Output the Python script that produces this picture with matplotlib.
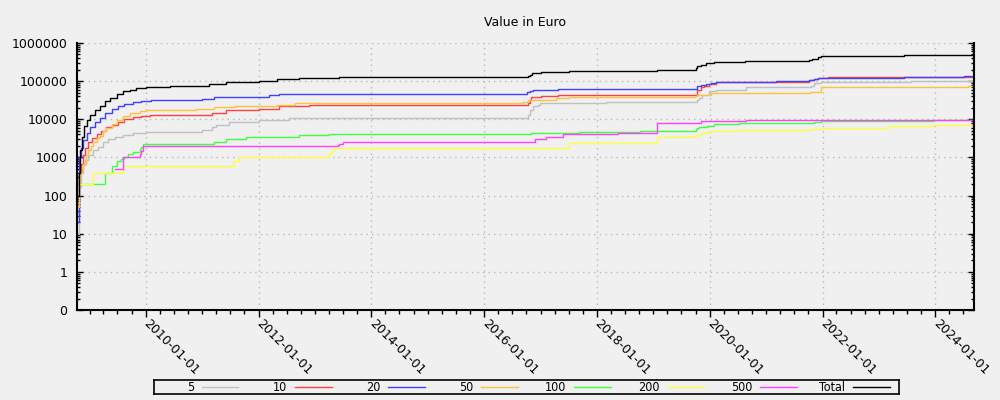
import matplotlib
matplotlib.use("Agg")
import matplotlib.pyplot as plt
import matplotlib.dates as mdates
from matplotlib.ticker import LogLocator, FuncFormatter, NullFormatter
from datetime import datetime

# ---- data (time in decimal years, value in Euro), step curves ----
t_5 = [2008.80, 2008.806, 2008.84, 2008.876, 2008.918, 2008.976, 2009.065, 2009.153, 2009.24, 2009.33,
       2009.45, 2009.59, 2009.77, 2010.006, 2011.0, 2011.18, 2011.24, 2011.48, 2012.0, 2012.54,
       2016.78, 2016.81, 2016.87, 2016.96, 2016.98, 2018.16, 2019.78, 2019.81, 2019.87, 2019.99,
       2020.11, 2020.64, 2021.79, 2021.85, 2021.97, 2023.57]
v_5 = [10, 166, 380, 630, 850, 1150, 1560, 1900, 2600, 3100,
       3500, 3900, 4300, 4650, 5100, 6200, 7200, 8700, 9300, 10500,
       13200, 17800, 21900, 23700, 26800, 29000, 32800, 36300, 44400, 54500,
       60200, 69300, 76800, 86800, 96000, 102000]

t_10 = [2008.80, 2008.818, 2008.84, 2008.876, 2008.918, 2008.976, 2009.035, 2009.124, 2009.21, 2009.30,
        2009.39, 2009.51, 2009.62, 2009.77, 2009.92, 2010.065, 2011.18, 2011.42, 2012.0, 2012.36,
        2012.9, 2016.78, 2016.81, 2016.82, 2017.01, 2017.30, 2019.78, 2019.84, 2019.90, 2019.99,
        2020.11, 2021.76, 2021.85, 2021.91, 2022.09]
v_10 = [200, 420, 690, 1150, 1740, 2600, 3200, 4100, 5060, 6200,
        7200, 8700, 10300, 11400, 12400, 13200, 14600, 17100, 19000, 21900,
        23700, 26800, 32700, 38500, 41700, 44400, 60200, 70800, 76800, 85000,
        96000, 108000, 115000, 122000, 130000]

t_20 = [2008.80, 2008.818, 2008.85, 2008.89, 2008.947, 2009.006, 2009.094, 2009.18, 2009.27, 2009.39,
        2009.51, 2009.62, 2009.77, 2009.92, 2010.09, 2011.0, 2011.21, 2012.18, 2012.36, 2016.75,
        2016.81, 2016.87, 2017.30, 2019.78, 2019.84, 2019.93, 2020.02, 2020.11, 2021.17, 2021.76,
        2021.85, 2021.91, 2022.0, 2023.45, 2024.50]
v_20 = [20, 1040, 1730, 2900, 4300, 6200, 8700, 10700, 14600, 18500,
        21800, 25800, 29000, 30900, 32300, 34000, 38700, 44400, 47200, 52300,
        55000, 59000, 62700, 73800, 78300, 85000, 90400, 96000, 102000, 108000,
        115000, 120000, 122000, 127000, 138000]

t_50 = [2008.80, 2008.806, 2008.83, 2008.86, 2008.89, 2008.935, 2008.976, 2009.018, 2009.065, 2009.124,
        2009.18, 2009.24, 2009.30, 2009.39, 2009.48, 2009.59, 2009.71, 2009.89, 2010.006, 2010.89,
        2011.21, 2011.59, 2012.33, 2012.65, 2016.68, 2016.78, 2016.90, 2017.28, 2017.51, 2019.73,
        2019.78, 2020.02, 2021.78, 2021.97, 2024.58]
v_50 = [50, 205, 380, 515, 690, 1150, 1560, 2000, 2600, 3150,
        3640, 4800, 5900, 7600, 9700, 12400, 14600, 16500, 17500, 18600,
        20600, 22400, 24100, 26800, 29000, 31500, 32800, 35600, 39300, 41800,
        44400, 49100, 52300, 69300, 75300]

t_100 = [2008.83, 2009.27, 2009.39, 2009.48, 2009.565, 2009.62, 2009.68, 2009.77, 2009.89, 2009.92,
         2009.95, 2010.89, 2011.21, 2011.42, 2011.77, 2012.71, 2013.25, 2016.82, 2017.68, 2018.77,
         2019.75, 2019.78, 2019.81, 2019.96, 2020.08, 2020.52, 2021.85, 2021.97, 2023.96]
v_100 = [200, 400, 600, 800, 900, 1000, 1200, 1400, 1700, 1900,
         2200, 2300, 2600, 3100, 3400, 3800, 4000, 4300, 4600, 5000,
         5500, 5960, 6200, 6700, 7400, 7900, 8600, 9100, 9500]

t_200 = [2008.83, 2009.065, 2009.59, 2011.56, 2011.65, 2013.25, 2013.28, 2013.31, 2017.50, 2019.07,
         2019.75, 2019.84, 2019.99, 2020.52, 2021.79, 2022.0, 2023.16, 2023.96]
v_200 = [200, 400, 600, 800, 1000, 1200, 1400, 1800, 2400, 3400,
         3900, 4300, 4800, 5200, 5500, 5850, 6600, 7000]

t_500 = [2009.45, 2009.59, 2009.89, 2009.92, 2009.95, 2013.40, 2013.43, 2013.49, 2016.90, 2017.10,
         2017.39, 2018.38, 2019.07, 2019.84, 2020.64, 2022.0, 2024.5]
v_500 = [500, 1000, 1200, 1500, 2000, 2100, 2300, 2500, 3050, 3400,
         4000, 4300, 7900, 8900, 9500, 9600, 9800]

t_total = [2008.80, 2008.818, 2008.83, 2008.86, 2008.90, 2008.947, 2009.006, 2009.094, 2009.18, 2009.27,
           2009.36, 2009.48, 2009.59, 2009.71, 2009.83, 2010.0, 2010.42, 2011.12, 2011.42, 2012.0,
           2012.33, 2012.71, 2013.43, 2016.78, 2016.81, 2016.84, 2016.92, 2017.01, 2017.51, 2019.07,
           2019.75, 2019.78, 2019.84, 2019.93, 2020.07, 2020.63, 2021.76, 2021.82, 2021.91, 2021.97,
           2023.45]
v_total = [100, 380, 1550, 3500, 6500, 9700, 13000, 17800, 22800, 29700,
           36500, 46200, 54500, 60200, 65300, 70800, 75300, 85000, 96000, 102000,
           111000, 118000, 125000, 135000, 147000, 159000, 166000, 176000, 188000, 199000,
           225000, 250000, 270000, 300000, 324000, 345000, 360000, 385000, 420000, 449000,
           476000]

series_names = ["5", "10", "20", "50", "100", "200", "500", "Total"]
series_t = [t_5, t_10, t_20, t_50, t_100, t_200, t_500, t_total]
series_v = [v_5, v_10, v_20, v_50, v_100, v_200, v_500, v_total]
series_colors = ["#c0c0c0", "#ff4040", "#4040ff", "#ffc040", "#40ff40", "#ffff40", "#ff40ff", "#000000"]

y_ticks = [0.1, 1, 10, 100, 1000, 10000, 100000, 1000000]
y_tick_labels = ["0", "1", "10", "100", "1000", "10000", "100000", "1000000"]

X_START = 2008.778
X_END = 2024.685


def to_date(y):
    yr = int(y)
    a = datetime(yr, 1, 1)
    b = datetime(yr + 1, 1, 1)
    return a + (b - a) * (y - yr)


BG = "#f0f0f0"
plt.rcParams["font.family"] = ["DejaVu Sans"]
fig = plt.figure(figsize=(10, 4), dpi=100, facecolor=BG)
ax = fig.add_axes([0.077, 0.225, 0.897, 0.6675], facecolor=BG)

for name, ts, vs, col in zip(series_names, series_t, series_v, series_colors):
    d = [to_date(t) for t in ts] + [to_date(X_END)]
    v = list(vs) + [vs[-1]]
    ax.plot(d, v, drawstyle="steps-post", color=col, lw=1.0)

ax.set_yscale("log")
ax.set_ylim(0.1, 1e6)
ax.set_xlim(to_date(X_START), to_date(X_END))

ax.yaxis.set_major_locator(matplotlib.ticker.FixedLocator(y_ticks))
ax.yaxis.set_major_formatter(matplotlib.ticker.FixedFormatter(y_tick_labels))
ax.yaxis.set_minor_locator(LogLocator(base=10, subs=range(2, 10), numticks=20))
ax.yaxis.set_minor_formatter(NullFormatter())

ax.xaxis.set_major_locator(mdates.YearLocator(2))
ax.xaxis.set_major_formatter(mdates.DateFormatter("%Y-%m-%d"))
ax.xaxis.set_minor_locator(mdates.MonthLocator(bymonth=[1, 4, 7, 10]))

ax.tick_params(axis="y", which="both", left=True, right=True, direction="in",
               labelsize=9, pad=7, width=1)
ax.tick_params(axis="y", which="major", length=4)
ax.tick_params(axis="y", which="minor", length=2)
ax.tick_params(axis="x", which="both", direction="out", labelsize=9, width=1, pad=3)
ax.tick_params(axis="x", which="major", length=5)
ax.tick_params(axis="x", which="minor", length=3)

plt.setp(ax.get_xticklabels(), rotation=-45, ha="left", va="center", rotation_mode="anchor")

ax.grid(which="major", color="#b8b8b8", linestyle=(0, (1, 3)), linewidth=1)
ax.spines["top"].set_visible(False)
for s in ["left", "right", "bottom"]:
    ax.spines[s].set_linewidth(1.5)
    ax.spines[s].set_color("black")

fig.text(0.5255, 0.945, "Value in Euro", ha="center", va="center", fontsize=9)

# ---- legend ----
lax = fig.add_axes([0.1536, 0.015, 0.745, 0.035], facecolor=BG)
lax.set_xlim(153.6, 898.6)
lax.set_ylim(0, 1)
lax.set_xticks([])
lax.set_yticks([])
for s in lax.spines.values():
    s.set_linewidth(1.2)
for i, (name, col) in enumerate(zip(series_names, series_colors)):
    x0 = 202 + 93.07 * i
    lax.plot([x0, x0 + 36.5], [0.5, 0.5], color=col, lw=1.0)
    lax.text(x0 - 8, 0.45, name, ha="right", va="center", fontsize=9, fontstretch="condensed")

fig.savefig("out.png", dpi=100, facecolor=BG)
